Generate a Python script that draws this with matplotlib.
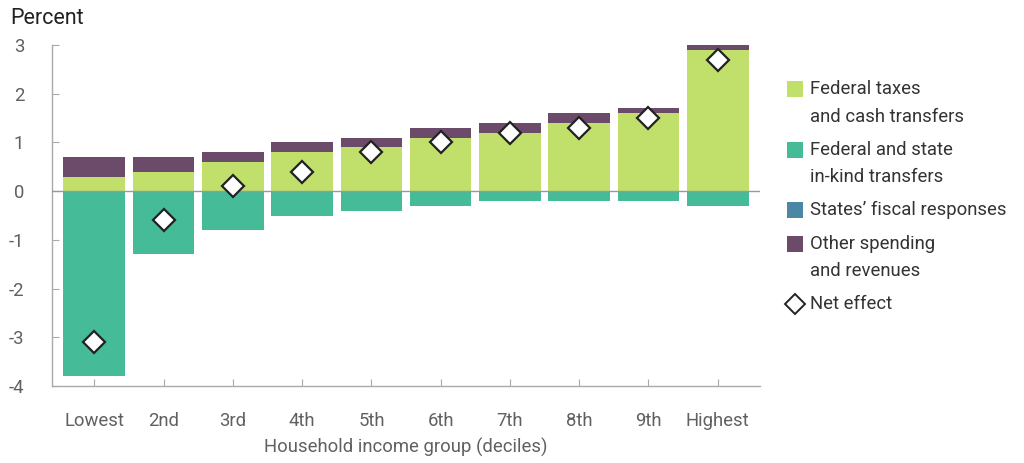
import matplotlib.pyplot as plt
from matplotlib.patches import Rectangle
from matplotlib.lines import Line2D

plt.rcParams['font.family'] = ['Roboto', 'DejaVu Sans']

groups = ["Lowest", "2nd", "3rd", "4th", "5th", "6th", "7th", "8th", "9th", "Highest"]
fed_taxes_cash = [0.3, 0.4, 0.6, 0.8, 0.9, 1.1, 1.2, 1.4, 1.6, 2.9]
in_kind = [-3.8, -1.3, -0.8, -0.5, -0.4, -0.3, -0.2, -0.2, -0.2, -0.3]
states_fiscal = [0, 0, 0, 0, 0, 0, 0, 0, 0, 0]
other_spending = [0.4, 0.3, 0.2, 0.2, 0.2, 0.2, 0.2, 0.2, 0.1, 0.1]
net_effect = [-3.1, -0.6, 0.1, 0.4, 0.8, 1.0, 1.2, 1.3, 1.5, 2.7]

c_green = "#c0df6b"
c_teal = "#45bb97"
c_blue = "#4a87a2"
c_purple = "#6b4b69"
grey = "#606060"
fs = 13.3

fig = plt.figure(figsize=(10.24, 4.63), dpi=100)
ax = fig.add_axes([0.0508, 0.1663, 0.6914, 0.7365])

x = range(len(groups))
w = 0.89
ax.bar(x, fed_taxes_cash, w, color=c_green, zorder=2)
ax.bar(x, in_kind, w, color=c_teal, zorder=2)
ax.bar(x, states_fiscal, w, bottom=in_kind, color=c_blue, zorder=2)
ax.bar(x, other_spending, w, bottom=fed_taxes_cash, color=c_purple, zorder=2)
ax.axhline(0, color="#999999", lw=1, zorder=3)
ax.plot(x, net_effect, ls="none", marker="D", ms=11, mfc="white", mec="#222222", mew=1.6, zorder=4)

ax.set_xlim(-0.61, 9.61)
ax.set_ylim(-4, 3)
ax.set_yticks(range(-4, 4))
ax.set_yticklabels([str(v) for v in range(-4, 4)])
ax.set_xticks(list(x))
ax.set_xticklabels(groups)
for s in ["top", "right"]:
    ax.spines[s].set_visible(False)
for s in ["left", "bottom"]:
    ax.spines[s].set_color("#aaaaaa")
    ax.spines[s].set_linewidth(1)
ax.tick_params(axis="both", direction="in", length=5, color="#aaaaaa", labelsize=fs, labelcolor=grey)
ax.tick_params(axis="x", pad=19)
ax.tick_params(axis="y", pad=20)
ax.set_xlabel("Household income group (deciles)", fontsize=fs, color=grey, labelpad=5)

fig.text(0.01, 0.96, "Percent", fontsize=15.5, color="#222222", va="center", ha="left")

# legend drawn by hand so the swatches sit at the first line of each label
H = 463.0
W = 1024.0
legend_items = [
    (c_green, ["Federal taxes", "and cash transfers"], 89),
    (c_teal, ["Federal and state", "in-kind transfers"], 150),
    (c_blue, ["States\u2019 fiscal responses"], 210),
    (c_purple, ["Other spending", "and revenues"], 244),
]
for col, lines, ypx in legend_items:
    fig.patches.append(Rectangle((787 / W, 1 - (ypx + 8) / H), 16 / W, 16 / H,
                                 transform=fig.transFigure, facecolor=col, edgecolor="none"))
    for i, line in enumerate(lines):
        fig.text(810 / W, 1 - (ypx + 27.5 * i) / H, line, fontsize=fs, color="#333333",
                 va="center", ha="left")
fig.lines.append(Line2D([795 / W], [1 - 304 / H], transform=fig.transFigure, ls="none",
                        marker="D", ms=10, mfc="white", mec="#222222", mew=1.4))
fig.text(810 / W, 1 - 304 / H, "Net effect", fontsize=fs, color="#333333", va="center", ha="left")

fig.savefig("out.png", dpi=100)
